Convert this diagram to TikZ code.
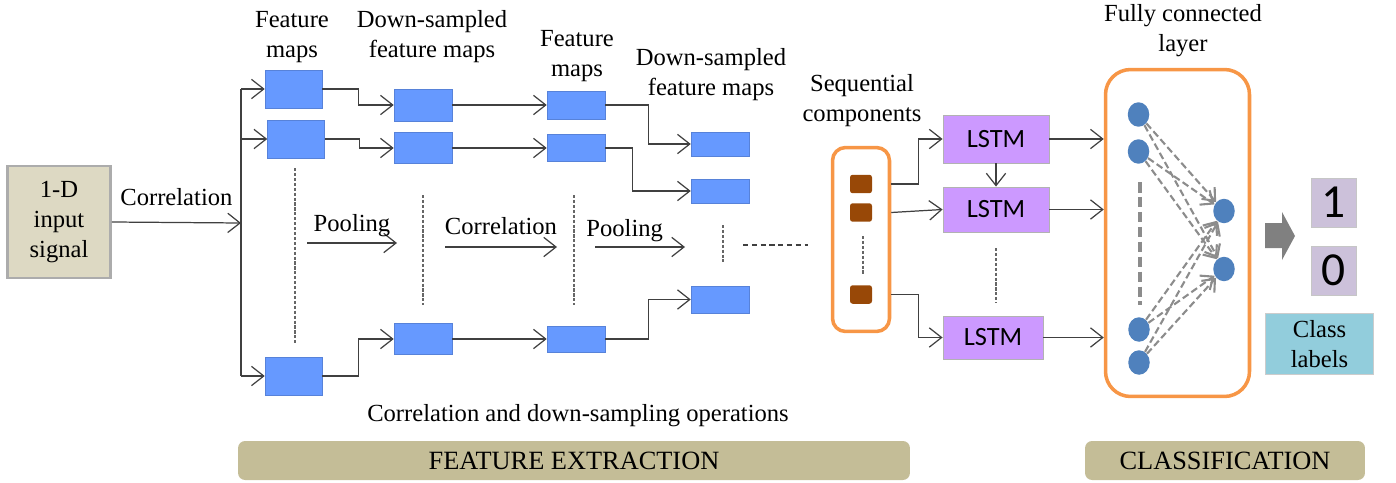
\documentclass[tikz,border=0pt]{standalone}
\usepackage{fontspec}
\setmainfont{Liberation Serif}
\newfontfamily\calibri{Carlito}
\usetikzlibrary{arrows.meta, positioning, shapes.geometric}

\definecolor{inputtan}{HTML}{DDD9C3}
\definecolor{fmblue}{HTML}{6699FF}
\definecolor{seqbrown}{HTML}{984807}
\definecolor{lstmviolet}{HTML}{CC99FF}
\definecolor{boxorange}{HTML}{F79646}
\definecolor{neuronblue}{HTML}{4F81BD}
\definecolor{digitlilac}{HTML}{CCC1DA}
\definecolor{classcyan}{HTML}{92CDDC}
\definecolor{bartan}{HTML}{C4BD97}
\definecolor{linegray}{HTML}{404040}
\definecolor{linkgray}{HTML}{8C8C8C}

\begin{document}
\begin{tikzpicture}[x=0.02cm, y=-0.02cm, font=\fontsize{14}{17}\selectfont]
        \tikzset{arr/.style={draw=linegray, line width=0.7pt, -{Straight Barb[length=7pt,width=11pt]}}}
        % boxes
        \tikzset{fmap/.style={rectangle, fill=fmblue, draw=fmblue!85!black, line width=0.3pt, inner sep=0pt, minimum width=1.14cm}}
        \tikzset{lstm/.style={rectangle, fill=lstmviolet, draw=gray!60, line width=0.5pt, inner sep=0pt, font=\calibri\fontsize{15}{17}\selectfont}}
        \tikzset{seqitem/.style={rectangle, fill=seqbrown, rounded corners=1.5pt, minimum width=0.44cm, minimum height=0.37cm, inner sep=0pt}}
        \tikzset{neuron/.style={ellipse, fill=neuronblue, minimum width=0.43cm, minimum height=0.49cm, inner sep=0pt}}
        \tikzset{digit/.style={rectangle, fill=digitlilac, draw=gray!45, line width=0.5pt, minimum width=0.9cm, minimum height=0.98cm, inner sep=0pt, font=\calibri\fontsize{27}{30}\selectfont}}
        \tikzset{stagebar/.style={rectangle, fill=bartan, rounded corners=4pt, minimum height=0.78cm, font=\fontsize{15}{17}\selectfont}}
        \tikzset{gap/.style={draw=linegray!80, line width=0.6pt, dash pattern=on 1.8pt off 1pt}}
        \tikzset{fclink/.style={draw=linkgray, line width=1.2pt, dash pattern=on 4pt off 2pt, -{Straight Barb[length=6pt,width=10pt]}}}

        \useasboundingbox (0,0) rectangle (1396,483);

        % input signal
        \node[fill=inputtan, draw=gray!65, line width=1.5pt, minimum width=2.06cm, minimum height=2.24cm, inner sep=0pt, align=center] (in) at (59,222) {1-D\\input\\signal};
        \coordinate (split) at (241,223);

        % feature maps, first stage
        \node[fmap, minimum height=0.76cm] (fm1) at (293.5,89) {};
        \node[fmap, minimum height=0.76cm] (fm2) at (296,139) {};
        \node[fmap, minimum height=0.76cm] (fm3) at (293.5,376) {};
        \node[fmap, minimum height=0.64cm, minimum width=1.16cm] (ds1) at (423,105) {};
        \node[fmap, minimum height=0.62cm, minimum width=1.16cm] (ds2) at (423,148) {};
        \node[fmap, minimum height=0.62cm, minimum width=1.16cm] (ds3) at (423,339) {};
        % feature maps, second stage
        \node[fmap, minimum height=0.56cm, minimum width=1.16cm] (fm4) at (576,105) {};
        \node[fmap, minimum height=0.54cm, minimum width=1.16cm] (fm5) at (576,148) {};
        \node[fmap, minimum height=0.52cm, minimum width=1.16cm] (fm6) at (576,339) {};
        \node[fmap, minimum height=0.48cm, minimum width=1.16cm] (ds4) at (720,144) {};
        \node[fmap, minimum height=0.48cm, minimum width=1.16cm] (ds5) at (720,191) {};
        \node[fmap, minimum height=0.54cm, minimum width=1.16cm] (ds6) at (720,299.5) {};

        % titles
        \node[align=center] (tfm1) at (292,37) {Feature\\maps};
        \node[align=center] (tds1) at (432,37) {Down-sampled\\feature maps};
        \node[align=center] (tfm2) at (577,56) {Feature\\maps};
        \node[align=center] (tds2) at (711,75) {Down-sampled\\feature maps};
        \node[align=center] (tseq) at (862,101) {Sequential\\components};
        \node[align=center] (tfc) at (1183,31) {Fully connected\\layer};

        % correlation into the first maps
        \draw[arr] (in.east) -- node[above=0.2cm] {Correlation} (split);
        \draw[linegray, line width=0.7pt] (split |- fm1.west) -- (split |- fm3.west);
        \draw[arr] (split |- fm1.west) -- (fm1.west);
        \draw[arr] (split |- fm2.west) -- (fm2.west);
        \draw[arr] (split |- fm3.west) -- (fm3.west);

        \draw[arr] (fm1.east) -- ++(36,0) |- (ds1.west);
        \draw[arr] (fm2.east) -- ++(35,0) |- (ds2.west);
        \draw[arr] (fm3.east) -- ++(36,0) |- (ds3.west);
        \draw[arr] (ds1.east) -- (fm4.west);
        \draw[arr] (ds2.east) -- (fm5.west);
        \draw[arr] (ds3.east) -- (fm6.west);
        \draw[arr] (fm4.east) -- ++(43,0) |- (ds4.west);
        \draw[arr] (fm5.east) -- ++(27,0) |- (ds5.west);
        \draw[arr] (fm6.east) -- ++(43,0) |- (ds6.west);

        % operations between the stages
        \coordinate (pool1a) at (307,243);
        \coordinate (pool1b) at (397,243);
        \coordinate (corr2a) at (445,247);
        \coordinate (corr2b) at (557,247);
        \coordinate (pool2a) at (595,247);
        \coordinate (pool2b) at (685,247);
        \draw[arr] (pool1a) -- node[above] {Pooling} (pool1b);
        \draw[arr] (corr2a) -- node[above=0.12cm] {Correlation} (corr2b);
        \draw[arr] (pool2a) -- node[above=-0.03cm, pos=0.33] {Pooling} (pool2b);

        \draw[gap] (295,168) -- (295,345);
        \draw[gap] (423,195) -- (423,305);
        \draw[gap] (574,195) -- (574,305);
        \draw[gap] (723,225) -- (723,262);
        \draw[gap, draw=linegray, dash pattern=on 3pt off 2pt] (743,245) -- (808,245);

        % sequential components
        \node[draw=boxorange, line width=2pt, rounded corners=0.26cm, minimum width=1.14cm, minimum height=3.68cm] (seq) at (861,239.5) {};
        \node[seqitem] (s1) at (861,184) {};
        \node[seqitem] (s2) at (861,212.5) {};
        \node[seqitem] (s3) at (861,294.5) {};
        \draw[gap] (863,236) -- (863,274);

        % LSTM cells
        \node[lstm, minimum width=2.12cm, minimum height=0.96cm] (lstm1) at (996,139) {LSTM};
        \node[lstm, minimum width=2.12cm, minimum height=0.9cm] (lstm2) at (996,209.5) {LSTM};
        \node[lstm, minimum width=2.0cm, minimum height=0.86cm] (lstm3) at (993,337.5) {LSTM};
        \draw[gap] (996,248) -- (996,303);

        \draw[arr] (seq.east |- s1) -- ++(27,0) |- (lstm1.west);
        \draw[arr] (seq.east |- s2) -- (lstm2.west);
        \draw[arr] (seq.east |- s3) -- ++(27,0) |- (lstm3.west);
        \draw[arr] (lstm1.south) -- (lstm2.north);

        % fully connected layer
        \node[draw=boxorange, line width=2pt, rounded corners=0.5cm, minimum width=2.88cm, minimum height=6.54cm] (fc) at (1177.5,233) {};
        \draw[arr] (lstm1.east) -- (fc.west |- lstm1.east);
        \draw[arr] (lstm2.east) -- (fc.west |- lstm2.east);
        \draw[arr] (lstm3.east) -- (fc.west |- lstm3.east);

        \node[neuron] (i1) at (1138.5,114.5) {};
        \node[neuron] (i2) at (1138.5,151.5) {};
        \node[neuron] (i3) at (1139,329.5) {};
        \node[neuron] (i4) at (1139,362.5) {};
        \node[neuron] (o1) at (1224,211) {};
        \node[neuron] (o2) at (1224,269) {};
        \draw[draw=linkgray, line width=2.2pt, dash pattern=on 6pt off 2.5pt] (1140,182) -- (1140,305);
        \foreach \a in {i1,i2,i3,i4}
            \foreach \b in {o1,o2}
                \draw[fclink] (\a) -- (\b);

        % class labels
        \fill[gray] (1265,223) -- (1282,223) -- (1282,212) -- (1295,236) -- (1282,260) -- (1282,248) -- (1265,248) -- cycle;
        \node[digit] (c1) at (1333.5,202.5) {1};
        \node[digit] (c0) at (1333.5,270.5) {0};
        \node[fill=classcyan, draw=gray!40, line width=0.5pt, minimum width=2.16cm, minimum height=1.22cm, inner sep=0pt, align=center] (cls) at (1319.5,344) {Class\\labels};

        % stages
        \node (ops) at (578,416) {Correlation and down-sampling operations};
        \node[stagebar, minimum width=13.44cm] (fe) at (574,460.5) {FEATURE EXTRACTION};
        \node[stagebar, minimum width=5.6cm] (cl) at (1225,460.5) {CLASSIFICATION};
\end{tikzpicture}
\end{document}
